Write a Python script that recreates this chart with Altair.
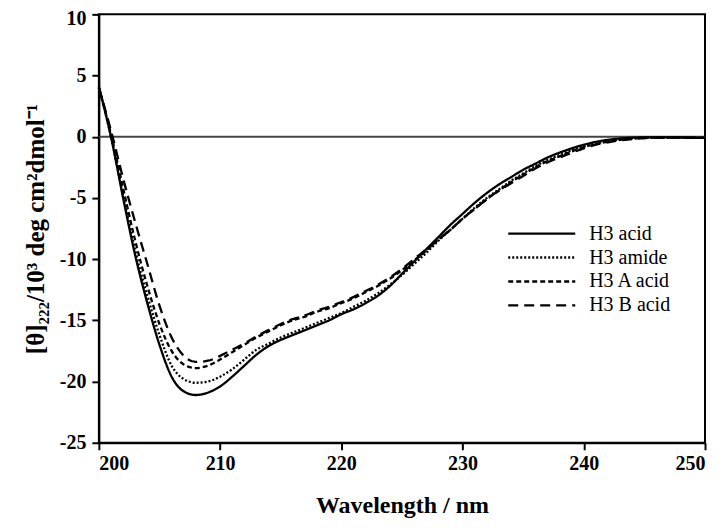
import altair as alt
import pandas as pd

wavelength = list(range(200, 251))

h3_acid = [4.1, 0.0, -5.0, -9.7, -13.6, -17.0, -19.6, -20.8, -21.1, -20.9,
           -20.4, -19.6, -18.7, -17.8, -17.1, -16.6, -16.2, -15.8, -15.4, -15.0,
           -14.5, -14.1, -13.6, -13.0, -12.2, -11.2, -10.2, -9.2, -8.2, -7.2,
           -6.3, -5.4, -4.6, -3.9, -3.3, -2.7, -2.2, -1.7, -1.3, -0.95,
           -0.65, -0.42, -0.25, -0.14, -0.08, -0.05, -0.04, -0.05, -0.06, -0.08, -0.1]

h3_amide = [4.0, 0.0, -4.8, -9.3, -13.0, -16.2, -18.7, -19.8, -20.1, -20.0,
            -19.6, -19.0, -18.2, -17.4, -16.9, -16.4, -16.0, -15.6, -15.2, -14.8,
            -14.4, -13.9, -13.4, -12.8, -12.1, -11.3, -10.4, -9.5, -8.5, -7.6,
            -6.7, -5.8, -5.0, -4.3, -3.6, -3.0, -2.4, -1.9, -1.5, -1.1,
            -0.8, -0.55, -0.35, -0.22, -0.13, -0.08, -0.06, -0.06, -0.07, -0.08, -0.1]

h3_a_acid = [4.0, 0.2, -4.2, -8.5, -12.2, -15.3, -17.5, -18.6, -18.9, -18.7,
             -18.2, -17.6, -17.0, -16.4, -15.9, -15.4, -15.0, -14.7, -14.3, -14.0,
             -13.6, -13.2, -12.7, -12.2, -11.6, -10.9, -10.1, -9.3, -8.4, -7.6,
             -6.7, -5.9, -5.1, -4.4, -3.7, -3.1, -2.5, -2.0, -1.6, -1.2,
             -0.85, -0.6, -0.4, -0.25, -0.15, -0.1, -0.07, -0.06, -0.07, -0.08, -0.1]

h3_b_acid = [4.0, 0.5, -3.4, -7.0, -10.4, -13.8, -16.4, -17.9, -18.4, -18.3,
             -17.9, -17.4, -16.9, -16.3, -15.8, -15.3, -14.9, -14.6, -14.2, -13.9,
             -13.5, -13.1, -12.6, -12.1, -11.5, -10.8, -10.0, -9.2, -8.4, -7.6,
             -6.7, -5.9, -5.1, -4.4, -3.8, -3.2, -2.6, -2.1, -1.7, -1.3,
             -0.95, -0.65, -0.45, -0.3, -0.18, -0.11, -0.08, -0.07, -0.07, -0.08, -0.1]

series_names = ["H3 acid", "H3 amide", "H3 A acid", "H3 B acid"]
series_values = [h3_acid, h3_amide, h3_a_acid, h3_b_acid]
dash_styles = [[1, 0], [2, 2], [5, 3], [10, 6]]

x_ticks = [200, 210, 220, 230, 240, 250]
y_ticks = [-25, -20, -15, -10, -5, 0, 5, 10]

rows = []
for name, vals in zip(series_names, series_values):
    for w, v in zip(wavelength, vals):
        rows.append({"wl": w, "theta": v, "series": name})
df = pd.DataFrame(rows)
zero_df = pd.DataFrame({"y": [0]})

FONT = "Liberation Serif"

x_enc = alt.X("wl:Q", scale=alt.Scale(domain=[200, 250], nice=False),
              axis=alt.Axis(values=x_ticks, title="Wavelength / nm", grid=False,
                            tickSize=7, labelPadding=4, titlePadding=20))
y_enc = alt.Y("theta:Q", scale=alt.Scale(domain=[-25, 10], nice=False),
              axis=alt.Axis(values=y_ticks, title="[θ]₂₂₂/10³ deg cm²dmol⁻¹",
                            grid=False, tickSize=7, labelPadding=6, titlePadding=11,
                            titleFontSize=25,
                            labelExpr="datum.value < 0 ? '-' + abs(datum.value) : '' + datum.value",
                            labelOffset=alt.ExprRef("datum.value == 10 ? 4 : 0")))

zero = alt.Chart(zero_df).mark_rule(color="#444444", strokeWidth=2).encode(y="y:Q")

lines = alt.Chart(df).mark_line(color="black", strokeWidth=2.3, interpolate="monotone").encode(
    x=x_enc,
    y=y_enc,
    strokeDash=alt.StrokeDash(
        "series:N",
        scale=alt.Scale(domain=series_names, range=dash_styles),
        legend=alt.Legend(title=None, orient="none", legendX=431, legendY=207,
                          symbolType="M-3,0H3", symbolSize=500, symbolStrokeWidth=2.3,
                          symbolStrokeColor="black", labelFont=FONT, labelFontSize=20,
                          labelColor="black", labelOffset=35, rowPadding=1,
                          labelLimit=300),
    ),
    detail="series:N",
)

chart = alt.layer(zero, lines).properties(
    width=607, height=429,
    autosize=alt.AutoSizeParams(type="none"),
    padding={"left": 91, "top": 6, "right": 10, "bottom": 82},
).configure_view(
    stroke="black", strokeWidth=2
).configure_axis(
    labelFont=FONT, labelFontSize=20, labelFontWeight="bold", labelColor="black",
    titleFont=FONT, titleFontSize=24, titleFontWeight="bold", titleColor="black",
    domainColor="black", domainWidth=2, tickColor="black", tickWidth=2,
)

chart.save("out.html", embed_options={"renderer": "svg", "actions": False})
